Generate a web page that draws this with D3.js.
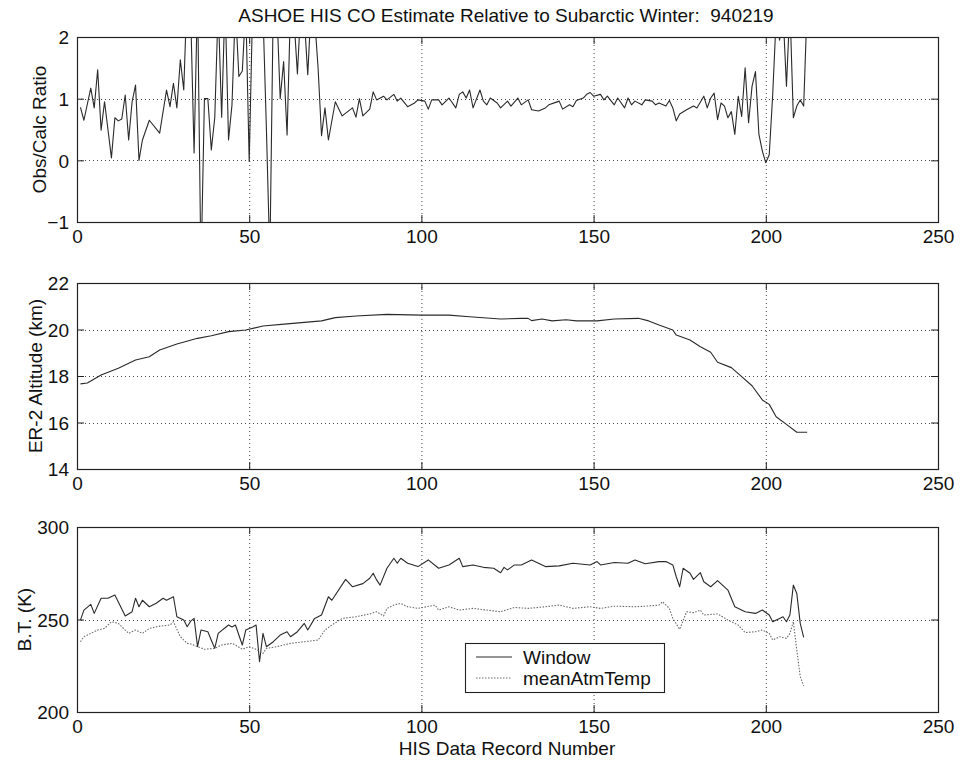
<!DOCTYPE html>
<html>
<head>
<meta charset="utf-8">
<script src="https://cdn.jsdelivr.net/npm/d3@7"></script>
<style>
  html, body { margin: 0; padding: 0; background: #fff; }
  svg { display: block; }
  text { font-family: "Liberation Sans", Arial, sans-serif; fill: #111; }
</style>
</head>
<body>
<svg id="chart" width="962" height="766"></svg>
<script>
// ---- data -------------------------------------------------------------
const xTicks = [0, 50, 100, 150, 200, 250];

// Obs/Calc CO ratio per HIS record
const ratioRec = [1,2,4,5,6,7,8,10,11,12,13,14,15,16,17,18,19,21,24,26,27,28,29,30,31,32,33,34,35,36,37,38,39,40,41,42,43,44,45,46,47,48,49,50,51,52,53,54,55,56,57,58,59,60,61,62,63,64,65,66,67,68,69,70,71,72,73,75,77,80,81,82,83,85,86,87,89,90,92,93,94,96,98,99,101,102,103,105,106,108,110,111,112,113,114,115,117,118,119,120,122,123,125,126,128,129,131,132,134,136,137,139,140,141,143,144,145,147,148,149,150,152,153,154,156,157,159,160,161,162,164,165,167,168,169,171,172,173,174,175,177,179,180,182,183,184,185,186,187,188,189,190,191,192,193,194,195,196,197,198,199,200,201,202,203,204,205,206,207,208,209,210,211,212];
const ratio = [0.86,0.65,1.17,0.85,1.47,0.49,0.95,0.04,0.69,0.64,0.67,1.06,0.33,0.95,1.22,0.0,0.33,0.65,0.44,1.14,0.87,1.25,0.85,1.63,1.14,2.8,2.4,0.12,2.7,-1.8,1.0,1.0,0.17,0.69,2.5,0.7,2.6,0.33,0.9,2.5,1.36,1.45,2.5,-0.02,2.5,2.3,2.6,2.4,0.5,-1.6,2.6,2.5,1.0,1.6,0.41,2.5,2.3,1.4,2.5,2.3,1.39,2.5,2.3,1.5,0.4,0.85,0.33,0.95,0.72,0.85,0.7,1.0,0.72,0.83,1.11,0.98,1.04,0.98,1.07,0.96,1.01,0.87,0.93,0.98,0.96,0.83,0.98,0.98,0.90,1.01,0.85,1.07,1.11,1.01,1.14,0.85,1.14,0.96,0.90,1.01,0.93,0.85,0.96,0.88,1.01,0.90,0.98,0.82,0.80,0.85,0.90,0.94,0.96,0.83,0.90,0.87,0.97,1.01,1.07,1.10,1.04,1.07,0.98,1.04,0.90,1.01,0.85,1.01,0.90,0.96,0.90,0.98,0.96,0.90,0.93,0.88,0.97,0.85,0.64,0.75,0.82,0.88,0.85,1.04,0.85,1.01,1.09,0.66,0.93,0.88,0.69,0.79,0.42,1.04,0.71,1.50,0.61,1.20,1.44,0.42,0.15,-0.04,0.09,1.06,2.3,1.95,2.4,1.2,2.5,0.69,0.88,0.98,0.88,2.5];

// ER-2 altitude (km)
const altRec = [1,3,7,12,17,21,24,29,35,39,44,49,54,61,71,75,81,90,100,108,114,123,129,131,132,135,138,142,145,151,156,163,166,169,173,174,178,181,184,186,190,193,196,199,201,203,206,209,212];
const altitude = [17.66,17.7,18.04,18.33,18.69,18.83,19.12,19.38,19.62,19.73,19.91,19.98,20.15,20.24,20.37,20.51,20.58,20.65,20.62,20.62,20.55,20.45,20.48,20.48,20.38,20.45,20.37,20.42,20.37,20.37,20.45,20.48,20.37,20.19,19.98,19.76,19.55,19.26,19.02,18.59,18.36,17.97,17.58,16.97,16.78,16.25,15.92,15.58,15.58];

// brightness temperatures (K)
const windowRec = [1,2,4,5,7,9,11,14,16,17,18,19,21,23,25,26,28,29,31,32,33,34,35,36,38,39,40,41,44,45,46,48,49,51,52,53,54,55,57,59,61,62,64,66,67,69,71,73,74,78,80,83,85,86,87,88,90,92,93,94,96,99,102,105,108,111,112,115,118,121,123,124,125,127,129,132,136,140,144,149,151,152,156,160,162,165,169,171,173,174,175,176,178,179,181,182,184,186,189,191,194,197,199,201,202,204,205,206,207,208,209,210,211];
const windowBT = [249.7,255.1,258.2,253.3,261.5,261.5,263.2,251.9,254.2,261.5,256.9,260.4,256.9,258.8,261.5,260.4,262.3,251.5,249.7,246.1,249.1,250.6,235.3,244.3,243.4,238.8,234.4,242.5,247,246,247,236.2,244.3,246,247,227.2,242.5,235.3,238,241.6,243.4,240.7,243.4,247.9,244.3,250.6,252.4,262.3,260.4,271.7,267.7,269.4,272.3,275,271.4,268.6,277.7,283.1,280.4,283.1,280.4,278.6,282.2,277.7,279.5,283.1,278.6,279.5,278.2,277.7,275.3,278.2,276.8,279.5,279.5,282.2,278.6,279,280.4,279.5,281.3,279.5,280.8,280.4,282.2,280.1,281.3,281.3,279.5,273.1,267.7,277.7,275,271.7,275.3,270.4,267.7,271,265.9,256.9,254.2,253.3,255.1,252.4,248.8,250.6,251.5,248.8,252.4,268.6,264.1,247.9,240.3];

const meanRec = [1,2,4,6,8,10,12,15,17,19,21,24,27,28,30,32,33,35,37,40,42,45,46,48,50,52,54,55,58,62,66,70,72,74,77,81,85,87,89,90,92,94,96,99,104,105,108,111,115,119,123,127,131,136,140,144,149,152,156,162,165,169,170,172,173,175,177,179,181,182,186,189,192,194,197,199,201,202,204,206,207,208,209,210,211];
const meanAtmTemp = [238,240.7,242.5,244.3,245.2,248.8,247.9,242.5,244.3,242.5,245.2,246.4,247,248.8,240.7,237.1,236.8,235.3,233.9,234.4,236.2,237.1,236.2,233.9,235.3,233.9,231.7,234.4,235.3,237.1,238,238.9,244.3,247,250.6,251.5,253,254.2,251.9,256,257.8,258.7,256.9,256,257.8,255.1,256.9,255.1,256,255.1,254.2,256.5,256,256.9,257.8,256,256.9,256,257.2,256.9,257.2,257.8,259.6,256,250.6,244.7,254.2,253.7,255.1,252.4,253,249.7,247,242.9,243.4,244.3,242.5,238.9,240.7,239.8,242.5,248.8,233.5,219.1,214.1];

const legendLabels = ["Window", "meanAtmTemp"];

// ---- layout -----------------------------------------------------------
const svg = d3.select("#chart");
const left = 77, right = 938;
const panels = [
  { top: 37,  bottom: 222, domain: [-1, 2],    ticks: [-1, 0, 1, 2],        label: "Obs/Calc Ratio",     labelX: 39 },
  { top: 283, bottom: 469, domain: [14, 22],   ticks: [14, 16, 18, 20, 22], label: "ER-2 Altitude (km)", labelX: 35 },
  { top: 527, bottom: 712, domain: [200, 300], ticks: [200, 250, 300],      label: "B.T. (K)",           labelX: 24 }
];

const x = d3.scaleLinear().domain([0, 250]).range([left, right]);
const tickLen = 7;
const fontSize = 19;

svg.append("text")
  .attr("x", 506).attr("y", 22)
  .attr("text-anchor", "middle")
  .style("font-size", "19px")
  .text("ASHOE HIS CO Estimate Relative to Subarctic Winter:\u00a0 940219");

panels.forEach((p, i) => {
  const y = d3.scaleLinear().domain(p.domain).range([p.bottom, p.top]);
  p.y = y;
  const g = svg.append("g");

  // dotted grid at interior ticks
  const grid = g.append("g").attr("stroke", "#444").attr("stroke-width", 1)
    .attr("stroke-dasharray", "1,3");
  grid.selectAll(".gx").data(xTicks.slice(1, -1)).join("line")
    .attr("x1", d => x(d) + 0.5).attr("x2", d => x(d) + 0.5)
    .attr("y1", p.top).attr("y2", p.bottom);
  grid.selectAll(".gy").data(p.ticks.slice(1, -1)).join("line")
    .attr("x1", left).attr("x2", right)
    .attr("y1", d => Math.round(y(d)) + 0.5).attr("y2", d => Math.round(y(d)) + 0.5);

  // inward ticks on all four sides
  const bottomAxis = d3.axisBottom(x).tickValues(xTicks).tickSize(-tickLen).tickPadding(8).tickFormat(d3.format("d"));
  const topAxis = d3.axisTop(x).tickValues(xTicks).tickSize(-tickLen).tickFormat("");
  const leftAxis = d3.axisLeft(y).tickValues(p.ticks).tickSize(-tickLen).tickPadding(8).tickFormat(d3.format("d"));
  const rightAxis = d3.axisRight(y).tickValues(p.ticks).tickSize(-tickLen).tickFormat("");

  const axB = g.append("g").attr("transform", `translate(0,${p.bottom})`).call(bottomAxis);
  const axT = g.append("g").attr("transform", `translate(0,${p.top})`).call(topAxis);
  const axL = g.append("g").attr("transform", `translate(${left},0)`).call(leftAxis);
  const axR = g.append("g").attr("transform", `translate(${right},0)`).call(rightAxis);
  [axB, axT, axL, axR].forEach(a => {
    a.select(".domain").remove();
    a.selectAll("line").attr("stroke", "#222");
    a.selectAll("text").style("font-size", fontSize + "px").attr("fill", "#111")
      .style("font-family", '"Liberation Sans", Arial, sans-serif');
  });
  axL.selectAll("text").attr("dy", "0.36em");

  // axes box
  g.append("rect")
    .attr("x", left + 0.5).attr("y", p.top + 0.5)
    .attr("width", right - left).attr("height", p.bottom - p.top)
    .attr("fill", "none").attr("stroke", "#222").attr("stroke-width", 1.2);

  // y-axis title
  const cy = (p.top + p.bottom) / 2;
  g.append("text")
    .attr("transform", `translate(${p.labelX},${cy}) rotate(-90)`)
    .attr("text-anchor", "middle")
    .attr("dy", "0.35em")
    .style("font-size", fontSize + "px")
    .text(p.label);

  // clip lines to the axes area
  svg.append("clipPath").attr("id", "clip" + i)
    .append("rect").attr("x", left).attr("y", p.top)
    .attr("width", right - left).attr("height", p.bottom - p.top);
});

function drawLine(panel, idx, recs, vals, style) {
  const line = d3.line().x((d, k) => x(recs[k])).y(d => panel.y(d));
  svg.append("path")
    .datum(vals)
    .attr("clip-path", `url(#clip${idx})`)
    .attr("fill", "none")
    .attr("stroke", style.color)
    .attr("stroke-width", style.width)
    .attr("stroke-dasharray", style.dash || null)
    .attr("stroke-linejoin", "round")
    .attr("d", line);
}

const solidStyle = { color: "#2a2a2a", width: 1.1 };
const dottedStyle = { color: "#6a6a6a", width: 1.1, dash: "1.5,1.5" };

drawLine(panels[0], 0, ratioRec, ratio, solidStyle);
drawLine(panels[1], 1, altRec, altitude, solidStyle);
drawLine(panels[2], 2, windowRec, windowBT, solidStyle);
drawLine(panels[2], 2, meanRec, meanAtmTemp, dottedStyle);

// x-axis title
svg.append("text")
  .attr("x", 507).attr("y", 755)
  .attr("text-anchor", "middle")
  .style("font-size", fontSize + "px")
  .text("HIS Data Record Number");

// legend
const lg = svg.append("g").attr("transform", "translate(465,643)");
lg.append("rect").attr("x", 0.5).attr("y", 0.5).attr("width", 199).attr("height", 49)
  .attr("fill", "#fff").attr("stroke", "#222").attr("stroke-width", 1.1);
const legendStyles = [solidStyle, dottedStyle];
legendLabels.forEach((lab, k) => {
  const ly = 14 + k * 21;
  lg.append("line").attr("x1", 11).attr("x2", 47).attr("y1", ly).attr("y2", ly)
    .attr("stroke", legendStyles[k].color).attr("stroke-width", 1)
    .attr("stroke-dasharray", legendStyles[k].dash || null);
  lg.append("text").attr("x", 58).attr("y", ly).attr("dy", "0.35em")
    .style("font-size", fontSize + "px").text(lab);
});
</script>
</body>
</html>
